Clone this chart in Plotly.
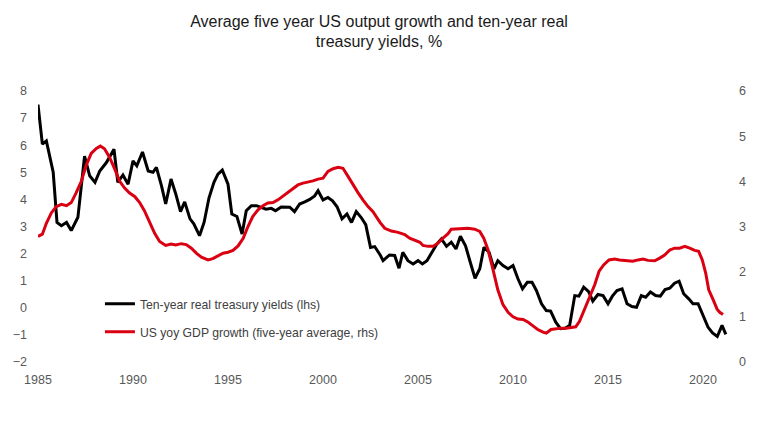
import plotly.graph_objects as go

# Ten-year real treasury yields (lhs), decimal years
yield_years = [1985.0, 1985.23, 1985.44, 1985.8, 1986.0, 1986.23, 1986.5, 1986.75, 1987.1, 1987.45,
               1987.72, 1988.0, 1988.25, 1988.6, 1989.0, 1989.2, 1989.47, 1989.74, 1990.0, 1990.2,
               1990.5, 1990.8, 1991.05, 1991.23, 1991.5, 1991.72, 1992.0, 1992.25, 1992.5, 1992.72,
               1993.0, 1993.2, 1993.5, 1993.74, 1994.0, 1994.26, 1994.47, 1994.7, 1995.0, 1995.2,
               1995.47, 1995.74, 1995.96, 1996.23, 1996.5, 1996.75, 1997.0, 1997.28, 1997.5, 1997.8,
               1998.07, 1998.25, 1998.5, 1998.77, 1999.04, 1999.3, 1999.56, 1999.74, 2000.0, 2000.26,
               2000.5, 2000.74, 2001.0, 2001.26, 2001.5, 2001.75, 2002.0, 2002.25, 2002.5, 2002.72,
               2003.0, 2003.16, 2003.5, 2003.77, 2004.0, 2004.2, 2004.47, 2004.74, 2005.0, 2005.23,
               2005.47, 2005.74, 2006.0, 2006.23, 2006.5, 2006.75, 2007.0, 2007.23, 2007.5, 2007.75,
               2008.0, 2008.25, 2008.47, 2008.74, 2009.0, 2009.2, 2009.47, 2009.74, 2010.0, 2010.26,
               2010.5, 2010.75, 2011.0, 2011.23, 2011.5, 2011.75, 2011.98, 2012.25, 2012.5, 2012.75,
               2012.98, 2013.25, 2013.47, 2013.72, 2013.98, 2014.2, 2014.47, 2014.74, 2015.0, 2015.23,
               2015.47, 2015.74, 2016.0, 2016.26, 2016.5, 2016.75, 2016.98, 2017.23, 2017.5, 2017.75,
               2018.0, 2018.25, 2018.5, 2018.74, 2018.98, 2019.25, 2019.47, 2019.74, 2020.0, 2020.26,
               2020.5, 2020.75, 2021.0, 2021.2]
yield_values = [7.5, 6.04, 6.16, 5.0, 3.15, 3.03, 3.15, 2.85, 3.34, 5.6,
                4.87, 4.63, 5.05, 5.36, 5.85, 4.63, 4.9, 4.56, 5.42, 5.24,
                5.75, 5.05, 5.0, 5.18, 4.5, 3.83, 4.75, 4.2, 3.55, 3.91,
                3.28, 3.1, 2.66, 3.15, 4.06, 4.63, 4.93, 5.08, 4.56, 3.46,
                3.37, 2.72, 3.58, 3.77, 3.77, 3.71, 3.64, 3.67, 3.58, 3.72,
                3.72, 3.71, 3.55, 3.83, 3.91, 4.0, 4.13, 4.32, 3.98, 4.07,
                3.95, 3.73, 3.28, 3.46, 3.15, 3.55, 3.34, 3.07, 2.23, 2.26,
                1.96, 1.74, 1.95, 1.93, 1.46, 2.05, 1.74, 1.62, 1.74, 1.62,
                1.74, 2.05, 2.36, 2.54, 2.27, 2.42, 2.17, 2.64, 2.29, 1.68,
                1.09, 1.44, 2.23, 2.05, 1.44, 1.74, 1.56, 1.44, 1.56, 1.07,
                0.70, 0.94, 0.94, 0.64, 0.15, -0.10, -0.12, -0.53, -0.77, -0.75,
                -0.65, 0.45, 0.43, 0.76, 0.60, 0.25, 0.49, 0.45, 0.15, 0.43,
                0.64, 0.70, 0.15, 0.05, 0.02, 0.45, 0.39, 0.58, 0.45, 0.43,
                0.67, 0.72, 0.91, 0.98, 0.52, 0.33, 0.15, 0.15, -0.28, -0.71,
                -0.93, -1.06, -0.65, -0.98]

# US yoy GDP growth, five-year average (rhs)
gdp_years = [1985.0, 1985.23, 1985.44, 1985.7, 1985.96, 1986.23, 1986.5, 1986.75, 1987.0, 1987.28,
             1987.54, 1987.8, 1988.07, 1988.28, 1988.5, 1988.77, 1989.04, 1989.3, 1989.56, 1989.82,
             1990.1, 1990.35, 1990.6, 1990.88, 1991.14, 1991.4, 1991.72, 1992.0, 1992.25, 1992.54,
             1992.8, 1993.07, 1993.33, 1993.6, 1993.95, 1994.2, 1994.47, 1994.74, 1995.0, 1995.26,
             1995.53, 1995.8, 1996.05, 1996.3, 1996.58, 1996.84, 1997.1, 1997.37, 1997.63, 1997.9,
             1998.16, 1998.42, 1998.68, 1998.95, 1999.2, 1999.47, 1999.74, 2000.0, 2000.26, 2000.53,
             2000.8, 2001.05, 2001.3, 2001.58, 2001.84, 2002.1, 2002.37, 2002.63, 2003.0, 2003.25,
             2003.6, 2003.95, 2004.3, 2004.56, 2004.82, 2005.1, 2005.26, 2005.53, 2005.8, 2006.05,
             2006.3, 2006.58, 2006.75, 2007.0, 2007.28, 2007.63, 2007.98, 2008.25, 2008.46, 2008.68,
             2008.95, 2009.2, 2009.47, 2009.74, 2010.0, 2010.26, 2010.53, 2010.8, 2011.05, 2011.3,
             2011.58, 2011.75, 2012.0, 2012.28, 2012.54, 2012.8, 2013.07, 2013.3, 2013.5, 2013.77,
             2014.04, 2014.3, 2014.53, 2014.77, 2015.05, 2015.35, 2015.6, 2015.96, 2016.3, 2016.58,
             2016.84, 2017.1, 2017.46, 2017.72, 2017.98, 2018.25, 2018.5, 2018.77, 2019.04, 2019.3,
             2019.56, 2019.77, 2019.96, 2020.14, 2020.3, 2020.53, 2020.74, 2020.88, 2021.05]
gdp_values = [2.78, 2.83, 3.07, 3.30, 3.44, 3.49, 3.46, 3.53, 3.74, 4.0,
              4.36, 4.62, 4.73, 4.78, 4.72, 4.53, 4.27, 4.0, 3.85, 3.74,
              3.66, 3.53, 3.35, 3.11, 2.85, 2.67, 2.58, 2.61, 2.59, 2.62,
              2.60, 2.52, 2.41, 2.32, 2.26, 2.29, 2.35, 2.41, 2.43, 2.47,
              2.57, 2.74, 3.0, 3.22, 3.37, 3.46, 3.52, 3.53, 3.59, 3.68,
              3.76, 3.85, 3.92, 3.96, 3.98, 4.01, 4.05, 4.07, 4.22, 4.28,
              4.31, 4.29, 4.12, 3.92, 3.75, 3.59, 3.44, 3.33, 3.09, 2.96,
              2.90, 2.87, 2.82, 2.74, 2.69, 2.65, 2.58, 2.56, 2.56, 2.63,
              2.74, 2.84, 2.94, 2.95, 2.96, 2.96, 2.94, 2.89, 2.74, 2.49,
              2.04, 1.60, 1.27, 1.10, 1.0, 0.95, 0.94, 0.88, 0.80, 0.72,
              0.66, 0.64, 0.72, 0.74, 0.75, 0.75, 0.77, 0.78, 0.90, 1.16,
              1.45, 1.71, 2.01, 2.15, 2.26, 2.28, 2.26, 2.25, 2.23, 2.26,
              2.28, 2.25, 2.24, 2.30, 2.37, 2.48, 2.52, 2.52, 2.56, 2.52,
              2.47, 2.45, 2.26, 1.97, 1.60, 1.38, 1.17, 1.10, 1.05]

x_ticks = [1985, 1990, 1995, 2000, 2005, 2010, 2015, 2020]
left_ticks = [-2, -1, 0, 1, 2, 3, 4, 5, 6, 7, 8]
right_ticks = [0, 1, 2, 3, 4, 5, 6]

FONT = "Liberation Sans, Arial, sans-serif"
TICK_COLOR = "#595959"

fig = go.Figure()
fig.add_trace(go.Scatter(
    x=yield_years, y=yield_values, mode="lines",
    name="Ten-year real treasury yields (lhs)",
    line=dict(color="#000000", width=3), legendgroup="a", yaxis="y"))
fig.add_trace(go.Scatter(
    x=gdp_years, y=gdp_values, mode="lines",
    name="US yoy GDP growth (five-year average, rhs)",
    line=dict(color="#DA0012", width=3), legendgroup="b", yaxis="y2"))

fig.update_layout(
    width=751, height=431,
    margin=dict(l=30, r=25, t=83, b=77),
    paper_bgcolor="white", plot_bgcolor="white",
    font=dict(family=FONT, size=12, color=TICK_COLOR),
    title=dict(
        text="Average five year US output growth and ten-year real<br>treasury yields, %",
        x=0.494, xanchor="center", y=0.957, yanchor="top",
        font=dict(family=FONT, size=16, color="#1a1a1a")),
    xaxis=dict(range=[1985, 2021.63], tickvals=x_ticks, ticktext=[str(t) for t in x_ticks],
               showgrid=False, zeroline=False, showline=False, ticks="", automargin=False,
               ticklabelstandoff=8, tickfont=dict(size=12.5, color=TICK_COLOR)),
    yaxis=dict(range=[-2, 8], tickvals=left_ticks, showgrid=False, zeroline=False,
               showline=False, ticks="", ticklabelstandoff=10, automargin=False,
               tickfont=dict(size=12.5, color=TICK_COLOR)),
    yaxis2=dict(range=[0, 6], tickvals=right_ticks, overlaying="y", side="right",
                showgrid=False, zeroline=False, showline=False, ticks="", automargin=False,
                ticklabelstandoff=4, tickfont=dict(size=12.5, color=TICK_COLOR)),
    legend=dict(x=0.089, y=0.268, xanchor="left", yanchor="top",
                bgcolor="rgba(0,0,0,0)", traceorder="grouped", tracegroupgap=9,
                font=dict(family=FONT, size=12.2, color="#404040")),
    showlegend=True,
)

fig.write_html("out.html")
